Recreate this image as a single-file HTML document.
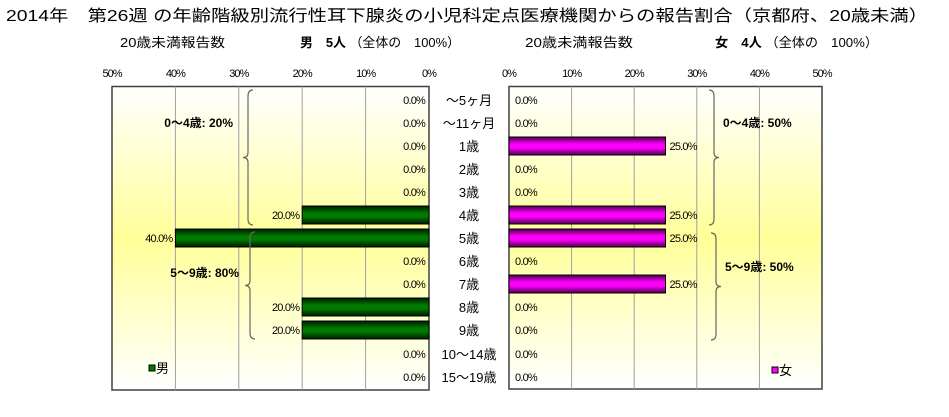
<!DOCTYPE html>
<html><head><meta charset="utf-8"><style>
body{margin:0;background:#fff;}
svg{display:block;font-family:"Liberation Sans","Noto Sans CJK JP",sans-serif;}
</style></head><body>
<svg id="c" width="949" height="417" viewBox="0 0 949 417">
<defs>
<linearGradient id="bg" x1="0" y1="0" x2="0" y2="1">
<stop offset="0" stop-color="#ffffff"/><stop offset="0.5" stop-color="#ffff99"/><stop offset="1" stop-color="#ffffff"/>
</linearGradient>
<linearGradient id="gm" x1="0" y1="0" x2="0" y2="1">
<stop offset="0" stop-color="#001a00"/><stop offset="0.4" stop-color="#007a00"/><stop offset="0.6" stop-color="#007a00"/><stop offset="1" stop-color="#001a00"/>
</linearGradient>
<linearGradient id="gf" x1="0" y1="0" x2="0" y2="1">
<stop offset="0" stop-color="#4a004a"/><stop offset="0.4" stop-color="#ff00ff"/><stop offset="0.6" stop-color="#ff00ff"/><stop offset="1" stop-color="#4a004a"/>
</linearGradient>
</defs>
<text x="6" y="21" font-size="16" textLength="922" lengthAdjust="spacingAndGlyphs">2014年　第26週 の年齢階級別流行性耳下腺炎の小児科定点医療機関からの報告割合（京都府、20歳未満）</text>
<text x="120" y="47" font-size="13" textLength="105" lengthAdjust="spacingAndGlyphs">20歳未満報告数</text>
<text x="300" y="47" font-size="13" textLength="160" lengthAdjust="spacingAndGlyphs"><tspan font-weight="bold">男　5人</tspan> （全体の　100%）</text>
<text x="525" y="47" font-size="13" textLength="108" lengthAdjust="spacingAndGlyphs">20歳未満報告数</text>
<text x="715" y="47" font-size="13" textLength="163" lengthAdjust="spacingAndGlyphs"><tspan font-weight="bold">女　4人</tspan> （全体の　100%）</text>
<g id="plots"></g>
</svg>
<script>
const categories=["～5ヶ月","～11ヶ月","1歳","2歳","3歳","4歳","5歳","6歳","7歳","8歳","9歳","10～14歳","15～19歳"];
const maleValues=[0,0,0,0,0,20,40,0,0,20,20,0,0];
const femaleValues=[0,0,25,0,0,25,25,0,25,0,0,0,0];
const tickLabels=["0%","10%","20%","30%","40%","50%"];
const ticks=[0,10,20,30,40,50];
const NS="http://www.w3.org/2000/svg";
const g=document.getElementById('plots');
function mk(t,a,txt){const e=document.createElementNS(NS,t);for(const k in a)e.setAttribute(k,a[k]);if(txt!==undefined)e.textContent=txt;g.appendChild(e);return e;}
const plotTop=86.5,plotBot=390;
const yC=i=>i<=10?100+23*i:(i==11?354:377);
const xL=v=>429-v*6.34, xR=v=>509+v*6.26;
let e=mk('rect',{x:112,y:plotTop,width:317,height:plotBot-plotTop,fill:'url(#bg)',stroke:'#404040','stroke-width':1.5});


e=mk('rect',{x:509,y:plotTop,width:313,height:plotBot-plotTop-1,fill:'url(#bg)',stroke:'#404040','stroke-width':1.5});


ticks.forEach((t,k)=>{
 if(t>0&&t<50){
  e=mk('line',{x1:xL(t),x2:xL(t),y1:plotTop,y2:plotBot,stroke:'#a0a0a0'});
  
  
  e=mk('line',{x1:xR(t),x2:xR(t),y1:plotTop,y2:plotBot-1,stroke:'#a0a0a0'});
  
  
 }
 e=mk('text',{x:xL(t),y:77,'font-size':11,'text-anchor':'middle','letter-spacing':'-1'},tickLabels[k]);
 
 
 e=mk('text',{x:xR(t),y:77,'font-size':11,'text-anchor':'middle','letter-spacing':'-1'},tickLabels[k]);
 
 
});
categories.forEach((c,i)=>{
 const y=yC(i);
 e=mk('text',{x:469,y:y+5,'font-size':13,'text-anchor':'middle'},c);
 
 
 const m=maleValues[i],f=femaleValues[i];
 if(m>0){e=mk('rect',{x:xL(m),y:y-9,width:429-xL(m),height:18,fill:'url(#gm)',stroke:'#000'});
  
  }
 e=mk('text',{x:(m>0?xL(m)-3:425),y:y+4,'font-size':11,'text-anchor':'end','letter-spacing':'-0.8'},m.toFixed(1)+'%');
 
 
 if(f>0){e=mk('rect',{x:509,y:y-9,width:xR(f)-509,height:18,fill:'url(#gf)',stroke:'#000'});
  
  }
 e=mk('text',{x:(f>0?xR(f)+4:515),y:y+4,'font-size':11,'letter-spacing':'-0.8'},f.toFixed(1)+'%');
 
 
});
function sum(a,s,t){let r=0;for(let i=s;i<=t;i++)r+=a[i];return r;}
function brace(x,y1,y2,dir){const m=(y1+y2)/2,d=dir*5;
 return `M${x+d},${y1} Q${x},${y1} ${x},${y1+6} L${x},${m-5} Q${x},${m} ${x-d},${m} Q${x},${m} ${x},${m+5} L${x},${y2-6} Q${x},${y2} ${x+d},${y2}`;}
e=mk('path',{d:brace(248,90,225,1),fill:'none',stroke:'#666','stroke-width':1.2});


e=mk('path',{d:brace(250,232,339,1),fill:'none',stroke:'#666','stroke-width':1.2});


e=mk('path',{d:brace(714,90,225,-1),fill:'none',stroke:'#666','stroke-width':1.2});


e=mk('path',{d:brace(716,233,340,-1),fill:'none',stroke:'#666','stroke-width':1.2});


e=mk('text',{x:233,y:127,'font-size':12,'font-weight':'bold','text-anchor':'end'},'0～4歳: '+sum(maleValues,0,5)+'%');


e=mk('text',{x:239,y:277,'font-size':12,'font-weight':'bold','text-anchor':'end'},'5～9歳: '+sum(maleValues,6,10)+'%');


e=mk('text',{x:723,y:127,'font-size':12,'font-weight':'bold'},'0～4歳: '+sum(femaleValues,0,5)+'%');


e=mk('text',{x:725,y:271,'font-size':12,'font-weight':'bold'},'5～9歳: '+sum(femaleValues,6,10)+'%');


e=mk('rect',{x:149,y:365,width:6,height:6,fill:'#007a00',stroke:'#000'});


e=mk('text',{x:156,y:373,'font-size':13},'男');


e=mk('rect',{x:772,y:367,width:6,height:6,fill:'#ff00ff',stroke:'#000'});


e=mk('text',{x:779,y:375,'font-size':13},'女');


</script>
</body></html>
